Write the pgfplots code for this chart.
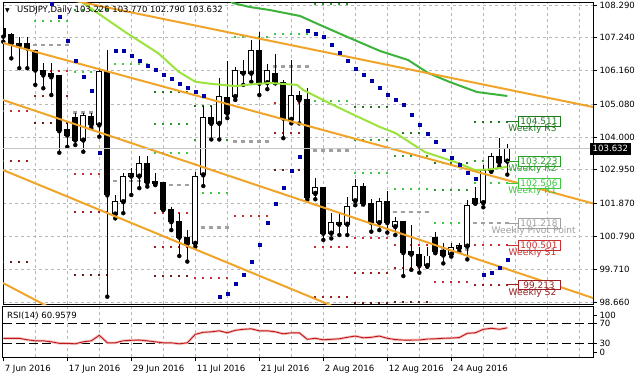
\documentclass[border=0pt]{standalone}
\usepackage{pgfplots}
\pgfplotsset{compat=1.18}
\usepackage{pgfplotstable}
\usepackage{fontspec}
\setmainfont{DejaVu Sans}
\definecolor{trend}{HTML}{F0A52A}
\definecolor{maL}{HTML}{9BE33D}
\definecolor{maD}{HTML}{3DB33D}
\definecolor{sar}{HTML}{0000A8}
\definecolor{rsi}{HTML}{C01818}
\definecolor{rsihalo}{HTML}{F4BFBF}
\definecolor{gridc}{HTML}{B8B8B8}
\definecolor{rthree}{HTML}{1F7A1F}
\definecolor{rtwo}{HTML}{2AA02A}
\definecolor{rone}{HTML}{40C840}
\definecolor{pp}{HTML}{A0A0A0}
\definecolor{sone}{HTML}{C83030}
\definecolor{stwo}{HTML}{9A2020}
\definecolor{sthree}{HTML}{6A1A1A}
\newcommand\tf{\fontsize{8.6}{10}\selectfont}
\newcommand\wf{\fontsize{9.2}{10}\selectfont}

\pgfplotstableread{
i o h l c
2 106.97 107.26 106.24 107.05
10 103.91 104.79 103.53 104.72
12 104.40 106.25 104.02 106.13
14 101.51 102.13 101.37 101.91
15 101.91 102.84 101.54 102.72
16 102.74 102.99 102.13 102.83
17 102.74 103.39 102.35 103.16
24 100.56 102.88 100.45 102.72
25 102.78 105.01 102.42 104.65
27 104.45 105.91 103.93 105.32
29 105.32 106.29 105.21 106.15
31 106.08 107.16 105.80 106.81
33 105.77 106.38 105.56 106.16
36 104.58 106.51 104.45 105.37
39 102.18 102.67 101.99 102.38
41 100.89 101.53 100.72 101.23
42 101.18 101.53 100.83 101.23
43 101.18 102.05 100.83 101.75
44 101.94 102.65 101.80 102.40
47 101.23 102.02 100.99 101.91
49 101.10 101.42 100.83 101.26
53 99.84 100.45 99.80 100.15
56 100.21 100.58 100.13 100.43
57 100.40 100.56 100.29 100.50
58 100.47 101.97 100.04 101.80
60 101.88 103.10 101.73 102.92
61 102.92 103.50 102.88 103.39
63 103.226 103.770 102.790 103.632
}\bull

\pgfplotstableread{
i o h l c
0 107.53 107.86 107.10 107.28
1 107.32 107.39 106.56 107.05
3 107.05 107.26 106.24 106.89
4 106.83 106.83 105.70 106.18
5 106.18 106.40 105.59 106.02
6 106.07 106.40 105.37 105.96
7 105.99 105.99 103.50 104.21
8 104.24 104.50 103.69 104.07
9 104.63 104.79 103.75 103.91
11 104.69 104.79 104.30 104.40
13 106.13 106.83 98.83 102.13
18 103.16 103.39 102.40 102.53
19 102.57 102.83 102.45 102.49
20 102.54 102.56 101.64 101.66
21 101.66 101.75 100.99 101.26
22 101.28 101.53 100.15 100.76
23 100.76 100.99 99.97 100.54
26 104.65 105.01 103.93 104.45
28 105.30 106.48 104.62 104.78
30 106.13 106.51 105.70 106.08
32 106.83 107.42 105.37 105.75
34 106.08 106.70 105.75 105.77
35 105.77 105.86 103.97 104.62
37 105.37 105.51 104.45 105.21
38 105.24 105.59 101.97 102.05
40 102.38 102.38 100.67 100.89
45 102.40 102.53 101.84 101.84
46 101.86 101.99 100.94 101.23
48 101.91 102.27 100.91 101.23
50 101.26 101.26 99.50 100.26
51 100.29 101.15 99.70 100.21
52 100.21 100.45 99.61 99.84
54 100.76 100.94 100.24 100.29
55 100.32 100.56 99.91 100.18
59 102.02 102.40 101.86 101.86
62 103.39 103.97 103.05 103.18
}\bear

\begin{document}
\begin{tikzpicture}
\fill[white] (0bp,0bp) rectangle (636bp,-379bp);
\useasboundingbox (0bp,0bp) rectangle (636bp,-379bp);

\begin{axis}[
  at={(3bp,-3bp)}, anchor=north west, scale only axis,
  width=590bp, height=301bp,
  xmin=-0.0375, xmax=73.71, ymin=98.593, ymax=108.355,
  clip mode=individual,
  axis line style={black, line width=1bp},
  xtick={4,8,...,72}, xticklabels={}, x tick style={draw=none},
  xmajorgrids, ymajorgrids,
  major grid style={gridc, line width=0.8bp, dash pattern=on 3bp off 3bp},
  ytick={98.66,99.71,100.79,101.87,102.95,104.00,105.08,106.16,107.24,108.29},
  yticklabels={98.660,99.710,100.790,101.870,102.950,104.000,105.080,106.160,107.240,108.290},
  ytick pos=right, yticklabel pos=right,
  y tick style={black, line width=0.8bp}, major tick length=4bp, tick align=outside,
  yticklabel style={font=\tf, anchor=west, xshift=-1bp},
  unbounded coords=jump,
]
% weekly pivot levels
\addplot[rthree, line width=2bp, dash pattern=on 2bp off 6bp] table {
x y
18.875 105.478
23.125 105.478
nan nan
23.875 105.014
28.125 105.014
nan nan
43.875 104.992
48.125 104.992
nan nan
48.875 104.149
53.125 104.149
nan nan
53.875 103.156
58.125 103.156
nan nan
58.875 104.511
63.125 104.511
};
\addplot[rtwo, line width=2bp, dash pattern=on 2bp off 6bp] table {
x y
8.875 108.127
13.125 108.127
nan nan
18.875 104.431
23.125 104.431
nan nan
23.875 103.912
28.125 103.912
nan nan
38.875 108.322
43.125 108.322
nan nan
43.875 103.912
48.125 103.912
nan nan
48.875 103.393
53.125 103.393
nan nan
53.875 102.290
58.125 102.290
nan nan
58.875 103.223
63.125 103.223
};
\addplot[rone, line width=2bp, dash pattern=on 2bp off 6bp] table {
x y
3.875 107.781
8.125 107.781
nan nan
8.875 106.127
13.125 106.127
nan nan
13.875 106.367
18.125 106.367
nan nan
18.875 103.500
23.125 103.500
nan nan
23.875 102.203
28.125 102.203
nan nan
28.875 107.242
33.125 107.242
nan nan
33.875 107.340
38.125 107.340
nan nan
38.875 105.186
43.125 105.186
nan nan
43.875 102.851
48.125 102.851
nan nan
48.875 102.313
53.125 102.313
nan nan
53.875 101.230
58.125 101.230
nan nan
58.875 102.506
63.125 102.506
};
\addplot[pp, line width=2.6bp, dash pattern=on 4bp off 4bp] table {
x y
3.75 106.993
8.25 106.993
nan nan
8.75 104.810
13.25 104.810
nan nan
13.75 102.582
18.25 102.582
nan nan
18.75 102.452
23.25 102.452
nan nan
23.75 101.081
28.25 101.081
nan nan
28.75 103.857
33.25 103.857
nan nan
33.75 106.289
38.25 106.289
nan nan
38.75 103.565
43.25 103.565
nan nan
43.75 101.772
48.25 101.772
nan nan
48.75 101.577
53.25 101.577
nan nan
53.75 100.367
58.25 100.367
nan nan
58.75 101.218
63.25 101.218
};
\addplot[sone, line width=2bp, dash pattern=on 2bp off 6bp] table {
x y
-0.125 104.862
3.125 104.862
nan nan
3.875 106.149
8.125 106.149
nan nan
8.875 102.809
13.125 102.809
nan nan
18.875 101.535
23.125 101.535
nan nan
23.875 99.427
28.125 99.427
nan nan
28.875 101.447
33.125 101.447
nan nan
33.875 105.121
38.125 105.121
nan nan
38.875 100.452
43.125 100.452
nan nan
43.875 100.724
48.125 100.724
nan nan
48.875 100.507
53.125 100.507
nan nan
53.875 99.317
58.125 99.317
nan nan
58.875 100.501
63.125 100.501
};
\addplot[stwo, line width=2bp, dash pattern=on 2bp off 6bp] table {
x y
-0.125 103.240
3.125 103.240
nan nan
3.875 105.339
8.125 105.339
nan nan
8.875 101.567
13.125 101.567
nan nan
18.875 100.452
23.125 100.452
nan nan
33.875 104.129
38.125 104.129
nan nan
38.875 98.830
43.125 98.830
nan nan
43.875 99.608
48.125 99.608
nan nan
48.875 99.751
53.125 99.751
nan nan
58.875 99.213
63.125 99.213
};
\addplot[sthree, line width=2bp, dash pattern=on 2bp off 6bp] table {
x y
-0.125 99.965
3.125 99.965
nan nan
3.875 104.473
8.125 104.473
nan nan
8.875 99.534
13.125 99.534
nan nan
18.875 99.502
23.125 99.502
nan nan
33.875 102.939
38.125 102.939
nan nan
43.875 98.620
48.125 98.620
nan nan
48.875 98.668
53.125 98.668
};
% candles: wicks
\addplot[only marks, mark=none, error bars/.cd, y dir=plus, y explicit, error mark=none,
  error bar style={black, line width=1bp, solid}]
  table[x=i, y=l, y error expr={\thisrow{h}-\thisrow{l}}] {\bull};
\addplot[only marks, mark=none, error bars/.cd, y dir=plus, y explicit, error mark=none,
  error bar style={black, line width=1bp, solid}]
  table[x=i, y=l, y error expr={\thisrow{h}-\thisrow{l}}] {\bear};
% bodies
\addplot[only marks, mark=none, error bars/.cd, y dir=plus, y explicit, error mark=none,
  error bar style={black, line width=6bp, solid}]
  table[x=i, y expr={\thisrow{c}-0.016}, y error expr={\thisrow{o}-\thisrow{c}+0.032}] {\bear};
\addplot[only marks, mark=none, error bars/.cd, y dir=plus, y explicit, error mark=none,
  error bar style={black, line width=6bp, solid}]
  table[x=i, y expr={\thisrow{o}-0.016}, y error expr={\thisrow{c}-\thisrow{o}+0.032}] {\bull};
\addplot[only marks, mark=none, error bars/.cd, y dir=plus, y explicit, error mark=none,
  error bar style={white, line width=4bp, solid}]
  table[x=i, y expr={\thisrow{o}+0.016}, y error expr={max(\thisrow{c}-\thisrow{o}-0.032,0)}] {\bull};
% moving averages
\addplot[maL, line width=2bp] table {
x y
9.0 108.62
10.0 108.35
15.2 107.42
19.4 106.72
21.9 106.13
24.0 105.80
26.1 105.73
29.0 105.66
31.5 105.73
33.4 105.76
36.7 105.70
37.5 105.53
40.5 105.14
43.3 104.79
47.1 104.33
49.0 104.14
52.7 103.52
56.8 103.17
58.9 102.94
60.5 102.95
63.0 103.04
};
\addplot[maD, line width=2bp] table {
x y
28.0 108.50
28.7 108.355
30.8 108.225
33.3 108.128
37.1 107.933
39.6 107.641
43.3 107.220
47.1 106.798
50.6 106.506
53.1 106.085
55.8 105.793
59.2 105.468
63.0 105.339
};
% trend lines
\addplot[trend, line width=2bp] coordinates {(0,108.90) (73.71,104.982)};
\addplot[trend, line width=2bp] coordinates {(-0.04,107.058) (73.71,101.853)};
\addplot[trend, line width=2bp] coordinates {(-0.04,105.209) (73.71,98.788)};
\addplot[trend, line width=2bp] coordinates {(-0.04,102.939) (41,98.544)};
\addplot[trend, line width=2bp] coordinates {(-0.04,99.274) (8,98.18)};
% parabolic SAR
\addplot[only marks, mark=square*, mark size=1.5bp, sar] table {
x y
6 108.345
7 107.91
8 107.13
9 106.48
10 105.95
11 105.51
12 103.51
14 106.81
15 106.81
16 106.64
17 106.47
18 106.31
19 106.18
20 106.02
21 105.89
22 105.75
23 105.61
24 105.48
25 105.35
27 98.83
28 98.94
29 99.24
30 99.53
31 99.96
32 100.51
33 101.22
34 101.84
35 102.38
36 102.92
37 103.36
38 107.45
39 107.35
40 107.26
41 106.99
42 106.74
43 106.47
44 106.24
45 106.02
46 105.83
47 105.61
48 105.39
49 105.21
50 105.05
51 104.72
52 104.40
53 104.11
54 103.86
55 103.59
56 103.34
57 103.10
58 102.86
59 102.67
60 99.53
61 99.61
62 99.76
63 100.02
};
% current price line
\addplot[gray!45, line width=0.8bp] coordinates {(-0.0375,103.632) (73.71,103.632)};
% connectors to pivot labels
\addplot[rthree, line width=0.8bp] coordinates {(63,104.511) (64.35,104.511)};
\addplot[rtwo, line width=0.8bp] coordinates {(63,103.223) (64.35,103.223)};
\addplot[rone, line width=0.8bp] coordinates {(63,102.506) (64.35,102.506)};
\addplot[pp, line width=0.8bp] coordinates {(63,101.218) (64.35,101.218)};
\addplot[sone, line width=0.8bp] coordinates {(63,100.501) (64.35,100.501)};
\addplot[stwo, line width=0.8bp] coordinates {(63,99.213) (64.35,99.213)};
% pivot labels
\tikzset{pbox/.style={draw=#1, text=#1, fill=white, font=\fontsize{9}{10}\selectfont, line width=0.8bp, inner xsep=1.5bp, inner ysep=1.5bp, minimum width=42bp}}
\node[pbox=rthree] at (axis cs:66.96,104.511) {104.511};
\node[pbox=rtwo] at (axis cs:66.96,103.223) {103.223};
\node[pbox=rone] at (axis cs:66.96,102.506) {102.506};
\node[pbox=pp] at (axis cs:66.96,101.218) {101.218};
\node[pbox=sone] at (axis cs:66.96,100.501) {100.501};
\node[pbox=stwo] at (axis cs:66.96,99.213) {99.213};
\node[text=rthree, font=\wf, inner sep=0] at (axis cs:66.15,104.26) {Weekly R3};
\node[text=rtwo, font=\wf, inner sep=0] at (axis cs:66.15,102.97) {Weekly R2};
\node[text=rone, font=\wf, inner sep=0] at (axis cs:66.15,102.25) {Weekly R1};
\node[text=pp, font=\wf, inner sep=0] at (axis cs:66.3,100.96) {Weekly Pivot Point};
\node[text=sone, font=\wf, inner sep=0] at (axis cs:66.15,100.245) {Weekly S1};
\node[text=stwo, font=\wf, inner sep=0] at (axis cs:66.15,98.95) {Weekly S2};
% current price tag
\node[fill=black, text=white, font=\tf, anchor=west, inner xsep=2.5bp, inner ysep=1.5bp, minimum height=12bp, xshift=-3bp] at (axis cs:73.71,103.632) {103.632};
% title
\node[anchor=west, font=\fontsize{6}{6}\selectfont, inner sep=0, xshift=2bp, yshift=-7.5bp] at (rel axis cs:0,1) {▼};
\node[anchor=west, font=\fontsize{8.5}{10}\selectfont, inner sep=0, xshift=14bp, yshift=-7bp] at (rel axis cs:0,1) {USDJPY,Daily 103.226 103.770 102.790 103.632};
\end{axis}

\begin{axis}[
  at={(3bp,-306.7bp)}, anchor=north west, scale only axis,
  width=590bp, height=50.6bp,
  xmin=-0.0375, xmax=73.71, ymin=2, ymax=103.2,
  clip mode=individual,
  axis line style={black, line width=1bp},
  xtick={4,8,...,72}, xticklabels={}, x tick style={draw=none},
  xmajorgrids,
  major grid style={gridc, line width=0.8bp, dash pattern=on 3bp off 3bp},
  extra x ticks={0,8,...,56},
  extra x tick labels={7 Jun 2016,17 Jun 2016,29 Jun 2016,11 Jul 2016,21 Jul 2016,2 Aug 2016,12 Aug 2016,24 Aug 2016},
  extra x tick style={grid=none, x tick style={draw=black, line width=0.8bp}, xticklabel style={anchor=north west, font=\tf, xshift=-2bp}},
  xtick pos=bottom,
  ytick={12.6,30,70,86.6}, yticklabels={0,30,70,100},
  ytick pos=right, yticklabel pos=right,
  y tick style={black, line width=0.8bp}, major tick length=4bp, tick align=outside,
  yticklabel style={font=\tf, anchor=west, xshift=-1bp},
]
\addplot[black, line width=0.8bp, dash pattern=on 9bp off 4bp] coordinates {(-0.0375,70) (73.71,70)};
\addplot[black, line width=0.8bp, dash pattern=on 9bp off 4bp] coordinates {(-0.0375,30) (73.71,30)};
\addplot[rsihalo, line width=2.6bp] table {
x y
0 40
1 40
2 40
3 37
4 35
5 35
6 33
7 30
8 30
9 29
10 33
11 35
12 46
13 31
14 31
15 35
16 36
17 36.5
18 35
19 33
20 31
21 31
22 29
23 31
24 48
25 52
26 53
27 55
28 51
29 56
30 58
31 59
32 55
33 55
34 53
35 49
36 51
37 51
38 38
39 40
40 37
41 38
42 39
43 42
44 44.5
45 41
46 42
47 44.5
48 40
49 37.5
50 36.5
51 36.5
52 36.6
53 38.5
54 39
55 40
56 40.5
57 41.5
58 50
59 51
60 58
61 60
62 58
63 60.96
};
\addplot[rsi, line width=0.9bp] table {
x y
0 40
1 40
2 40
3 37
4 35
5 35
6 33
7 30
8 30
9 29
10 33
11 35
12 46
13 31
14 31
15 35
16 36
17 36.5
18 35
19 33
20 31
21 31
22 29
23 31
24 48
25 52
26 53
27 55
28 51
29 56
30 58
31 59
32 55
33 55
34 53
35 49
36 51
37 51
38 38
39 40
40 37
41 38
42 39
43 42
44 44.5
45 41
46 42
47 44.5
48 40
49 37.5
50 36.5
51 36.5
52 36.6
53 38.5
54 39
55 40
56 40.5
57 41.5
58 50
59 51
60 58
61 60
62 58
63 60.96
};
\node[anchor=west, font=\tf, inner sep=0, xshift=4bp, yshift=-9.5bp] at (rel axis cs:0,1) {RSI(14) 60.9579};
\end{axis}
\end{tikzpicture}
\end{document}
